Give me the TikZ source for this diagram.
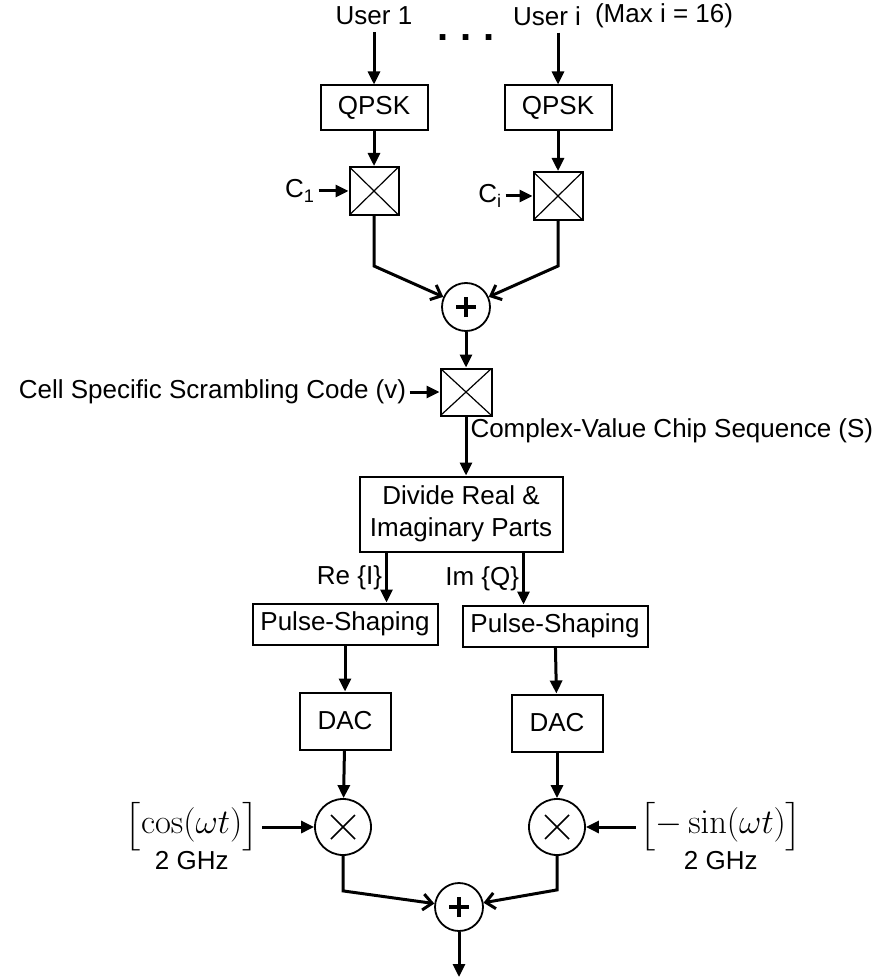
\documentclass[tikz,border=0pt]{standalone}
\usepackage{amsmath}
\usepackage[no-math]{fontspec}
\setmainfont{Liberation Sans}
\usetikzlibrary{arrows.meta,positioning,calc}
\newcommand{\lbrk}{\scalebox{1}[0.78]{$\Bigl[$}}
\newcommand{\rbrk}{\scalebox{1}[0.78]{$\Bigr]$}}

\begin{document}
\begin{tikzpicture}[x=0.5pt,y=-0.5pt,
  font=\fontsize{13}{16}\selectfont,
  blk/.style={draw,line width=1pt,inner sep=0pt,align=center},
  mulbox/.style={draw,line width=1pt,minimum width=24.5pt,minimum height=24pt,inner sep=0pt,
    path picture={\draw[line width=0.6pt] (path picture bounding box.south west) -- (path picture bounding box.north east)
      (path picture bounding box.north west) -- (path picture bounding box.south east);}},
  sumnode/.style={circle,draw,line width=0.9pt,minimum size=24pt,inner sep=0pt,
    path picture={\draw[line width=1.6pt] ([xshift=-5pt]path picture bounding box.center) -- ([xshift=5pt]path picture bounding box.center)
      ([yshift=-5pt]path picture bounding box.center) -- ([yshift=5pt]path picture bounding box.center);}},
  mixnode/.style={circle,draw,line width=0.9pt,minimum size=28pt,inner sep=0pt,
    path picture={\draw[line width=0.8pt] ([shift={(-6pt,-6pt)}]path picture bounding box.center) -- ([shift={(6pt,6pt)}]path picture bounding box.center)
      ([shift={(-6pt,6pt)}]path picture bounding box.center) -- ([shift={(6pt,-6pt)}]path picture bounding box.center);}},
  lbl/.style={inner sep=1.5pt},
  arr/.style={-{Triangle[length=6.5pt,width=6pt]},line width=1.5pt},
  sumarr/.style={-{Straight Barb[length=4.5pt,width=8pt]},line width=1.5pt}]
  \useasboundingbox (0,0) rectangle (883,978);

  % users and spreading
  \node (usr1) at (374,16) {User 1};
  \node (usri) at (547,16) {User i};
  \node[right=0pt of usri] (maxi) {(Max i = 16)};
  \node[font=\fontsize{20}{20}\selectfont\bfseries] (dots) at (466,38) {.\hspace{6pt}.\hspace{6pt}.};
  \node[blk,minimum width=53.5pt,minimum height=22.5pt] (qpsk1) at (374,108) {QPSK};
  \node[blk,minimum width=53.5pt,minimum height=22.5pt] (qpsk2) at (558,108) {QPSK};
  \node[mulbox] (spr1) at (374,191) {};
  \node[mulbox] (spr2) at (558,196) {};
  \node[lbl,left=15pt of spr1] (c1) {C\textsubscript{1}};
  \node[lbl,left=13.5pt of spr2] (ci) {C\textsubscript{i}};
  \node[sumnode] (sum1) at (466,307) {};

  % scrambling
  \node[mulbox,minimum width=25.5pt,minimum height=23.5pt] (scr) at (466,392) {};
  \node[lbl,left=15pt of scr] (scrcode) {Cell Specific Scrambling Code (v)};
  \node[blk,minimum width=101.5pt,minimum height=37.5pt] (split) at (461,514) {Divide Real \&\\Imaginary Parts};

  % I and Q branches
  \node[blk,minimum width=92.5pt,minimum height=20.5pt] (pulseI) at (345,624) {Pulse-Shaping};
  \node[blk,minimum width=92.5pt,minimum height=20.5pt] (pulseQ) at (555,626) {Pulse-Shaping};
  \node[blk,minimum width=45.5pt,minimum height=28.5pt] (dacI) at (345,721) {DAC};
  \node[blk,minimum width=45.5pt,minimum height=28.5pt] (dacQ) at (557,723) {DAC};
  \node[mixnode] (mixI) at (343,827) {};
  \node[mixnode] (mixQ) at (557,827) {};
  \node[lbl,left=26pt of mixI,font=\fontsize{16}{18}\selectfont] (cosw) {\lbrk$\cos(\omega t)$\rbrk};
  \node[below=-5pt of cosw] (fI) {2 GHz};
  \node[lbl,right=25pt of mixQ,font=\fontsize{16}{18}\selectfont] (sinw) {\lbrk$-\sin(\omega t)$\rbrk};
  \node[below=-5pt of sinw] (fQ) {2 GHz};
  \node[sumnode] (sum2) at (459,907) {};
  \coordinate (out) at (459,977);

  \draw[arr] (usr1) -- (qpsk1);
  \draw[arr] (usri.south -| qpsk2.north) -- (qpsk2);
  \draw[arr] (qpsk1) -- (spr1);
  \draw[arr] (qpsk2) -- (spr2);
  \draw[arr] (c1) -- (spr1);
  \draw[arr] (ci) -- (spr2);
  \draw[sumarr] (spr1.south) -- ++(0,-25pt) -- (sum1);
  \draw[sumarr] (spr2.south) -- ++(0,-22.5pt) -- (sum1);
  \draw[arr] (sum1) -- (scr);
  \draw[arr] (scrcode) -- (scr);
  \draw[arr] (scr) -- (scr |- split.north) node[lbl,right,pos=0.25] {Complex-Value Chip Sequence (S)};
  \draw[arr] ([xshift=14pt]split.south west) -- ([xshift=14pt]split.south west |- pulseI.north) node[lbl,left,midway] {Re \{I\}};
  \draw[arr] ([xshift=-20pt]split.south east) -- ([xshift=-20pt]split.south east |- pulseQ.north) node[lbl,left,midway] {Im \{Q\}};
  \draw[arr] (pulseI) -- (dacI);
  \draw[arr] (pulseQ) -- (dacQ);
  \draw[arr] (dacI) -- (mixI);
  \draw[arr] (dacQ) -- (mixQ);
  \draw[arr] (cosw) -- (mixI);
  \draw[arr] (sinw) -- (mixQ);
  \draw[sumarr] (mixI.south) -- ++(0,-17.5pt) -- (sum2);
  \draw[sumarr] (mixQ.south) -- ++(0,-17pt) -- (sum2);
  \draw[arr] (sum2) -- (out);
\end{tikzpicture}
\end{document}
